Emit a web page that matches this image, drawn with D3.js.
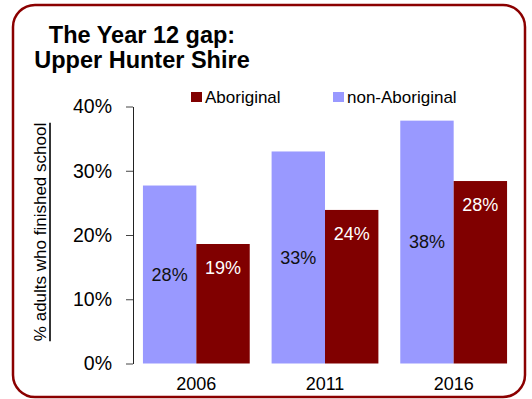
<!DOCTYPE html>
<html>
<head>
<meta charset="utf-8">
<script src="https://cdn.jsdelivr.net/npm/d3@7"></script>
<style>
  html, body { margin: 0; padding: 0; background: #fff; }
  svg { display: block; }
  text { font-family: "Liberation Sans", Arial, Helvetica, sans-serif; }
</style>
</head>
<body>
<svg id="chart" width="532" height="399"></svg>
<script>
// Census years shown on the x axis
const years = ["2006", "2011", "2016"];
// Series drawn within each year, left to right
const seriesNames = ["non-Aboriginal", "Aboriginal"];
// Share of adults who finished Year 12 (fractions)
const nonAboriginal = [0.277, 0.330, 0.378];
const aboriginal = [0.186, 0.239, 0.284];
// Y axis ticks
const yTicks = [0, 0.1, 0.2, 0.3, 0.4];
const titleLines = ["The Year 12 gap:", "Upper Hunter Shire"];
const yTitle = "% adults who finished school";

const colors = { "Aboriginal": "#800000", "non-Aboriginal": "#9999ff" };
const seriesValues = { "non-Aboriginal": nonAboriginal, "Aboriginal": aboriginal };

const rows = years.map((y, i) => ({
  year: y,
  values: seriesNames.map(s => ({ series: s, value: seriesValues[s][i] }))
}));

const svg = d3.select("#chart");

// Rounded frame
svg.append("rect")
  .attr("x", 13).attr("y", 5)
  .attr("width", 512).attr("height", 392)
  .attr("rx", 22).attr("ry", 22)
  .attr("fill", "#fff")
  .attr("stroke", "#8b0000")
  .attr("stroke-width", 2.5);

// Title
svg.append("g").selectAll("text")
  .data(titleLines)
  .join("text")
  .attr("x", 142)
  .attr("y", (d, i) => 43 + i * 25)
  .attr("text-anchor", "middle")
  .attr("font-size", 23.5)
  .attr("font-weight", "bold")
  .attr("fill", "#000")
  .text(d => d);

const x0 = d3.scaleBand()
  .domain(years)
  .range([132, 518])
  .paddingInner(0.17)
  .paddingOuter(0.085);

const x1 = d3.scaleBand()
  .domain(seriesNames)
  .range([0, x0.bandwidth()]);

const y = d3.scaleLinear()
  .domain([0, 0.4])
  .range([363.5, 106.5]);

// Y axis
const yAxis = svg.append("g")
  .attr("transform", "translate(133,0)")
  .call(d3.axisLeft(y)
    .tickValues(yTicks)
    .tickFormat(d3.format(".0%"))
    .tickSize(7)
    .tickSizeOuter(0)
    .tickPadding(14));
yAxis.select(".domain").attr("stroke", "#222");
yAxis.selectAll(".tick line").attr("stroke", "#444");
yAxis.selectAll(".tick text")
  .attr("font-size", 19.5)
  .attr("fill", "#000")
  .attr("font-family", "'Liberation Sans', Arial, sans-serif");

// Y axis title, underlined
const yTitleG = svg.append("g")
  .attr("transform", "translate(46,232) rotate(-90)");
yTitleG.append("text")
  .attr("text-anchor", "middle")
  .attr("font-size", 17)
  .attr("fill", "#000")
  .text(yTitle);
const tw = yTitleG.select("text").node().getComputedTextLength();
yTitleG.append("line")
  .attr("x1", -tw / 2).attr("x2", tw / 2)
  .attr("y1", 4).attr("y2", 4)
  .attr("stroke", "#000")
  .attr("stroke-width", 1.6);

// X axis labels
const xAxis = svg.append("g")
  .attr("transform", "translate(0,363.5)")
  .call(d3.axisBottom(x0).tickSize(0).tickPadding(14));
xAxis.select(".domain").remove();
xAxis.selectAll(".tick text")
  .attr("font-size", 18)
  .attr("fill", "#000")
  .attr("font-family", "'Liberation Sans', Arial, sans-serif");

// Bars
const groups = svg.append("g").selectAll("g")
  .data(rows)
  .join("g")
  .attr("transform", d => `translate(${x0(d.year)},0)`);

groups.selectAll("rect")
  .data(d => d.values)
  .join("rect")
  .attr("x", d => x1(d.series))
  .attr("y", d => y(d.value))
  .attr("width", x1.bandwidth())
  .attr("height", d => y(0) - y(d.value))
  .attr("fill", d => colors[d.series]);

// Value labels: centred for non-Aboriginal, near the top for Aboriginal
const fmt = d3.format(".0%");
groups.selectAll("text.val")
  .data(d => d.values)
  .join("text")
  .attr("class", "val")
  .attr("x", d => x1(d.series) + x1.bandwidth() / 2)
  .attr("y", d => d.series === "Aboriginal"
    ? y(d.value) + 24
    : (y(d.value) + y(0)) / 2)
  .attr("dy", "0.35em")
  .attr("text-anchor", "middle")
  .attr("font-size", 18)
  .attr("fill", d => d.series === "Aboriginal" ? "#fff" : "#111")
  .text(d => fmt(d.value));

// Legend
const legendItems = [
  { name: "Aboriginal", x: 191 },
  { name: "non-Aboriginal", x: 333 }
];
const legend = svg.append("g").selectAll("g")
  .data(legendItems)
  .join("g")
  .attr("transform", d => `translate(${d.x},92)`);
legend.append("rect")
  .attr("width", 11).attr("height", 10)
  .attr("fill", d => colors[d.name]);
legend.append("text")
  .attr("x", 14).attr("y", 11)
  .attr("font-size", 17)
  .attr("fill", "#000")
  .text(d => d.name);
</script>
</body>
</html>
